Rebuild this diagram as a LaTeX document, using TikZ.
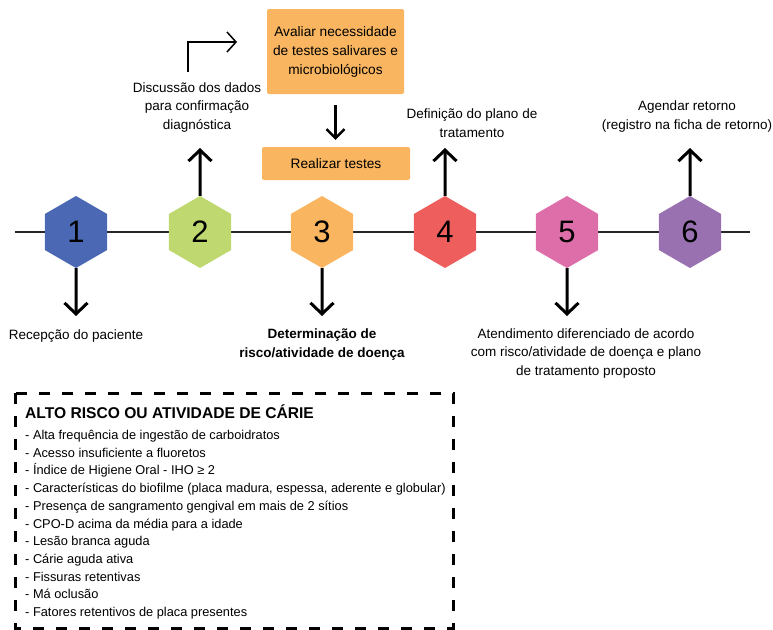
\documentclass[tikz,border=0pt]{standalone}
\usepackage{fontspec}
\setmainfont{Liberation Sans}
\usetikzlibrary{shapes.geometric,arrows.meta}
\definecolor{hexblue}{HTML}{4A68B4}
\definecolor{hexgreen}{HTML}{BFD970}
\definecolor{hexorange}{HTML}{F9B55F}
\definecolor{hexred}{HTML}{EE5E5C}
\definecolor{hexpink}{HTML}{DD6EAA}
\definecolor{hexpurple}{HTML}{9A71B0}
\tikzset{
	hexa/.style={regular polygon,regular polygon sides=6,shape border rotate=30,minimum size=72pt,inner sep=0pt,font=\fontsize{31}{31}\selectfont},
	bigarrow/.style={line width=3pt,-{Straight Barb[length=11pt,width=23pt,line width=3pt]}},
	midarrow/.style={line width=2.5pt,-{Straight Barb[length=9pt,width=18pt,line width=2.5pt]}},
	thinarrow/.style={line width=1.5pt,-{Straight Barb[length=9pt,width=20pt,line width=1.5pt]}},
	obox/.style={fill=hexorange,rounded corners=2pt,inner sep=0pt,font=\fontsize{13.7}{18.8}\selectfont},
	lbl/.style={inner sep=0pt,font=\fontsize{13.5}{18.6}\selectfont}
}
\begin{document}
\begin{tikzpicture}[x=1pt,y=-1pt]
		\useasboundingbox (0,0) rectangle (773,629);
	
		\coordinate (lstart) at (15,232);
		\coordinate (lend) at (750,232);
		\draw[line width=2pt,black!85] (lstart) -- (lend);
		
		\node[hexa,fill=hexblue] (h1) at (76,232){1};
		\node[hexa,fill=hexgreen] (h2) at (200,232){2};
		\node[hexa,fill=hexorange] (h3) at (322,232){3};
		\node[hexa,fill=hexred] (h4) at (445,232){4};
		\node[hexa,fill=hexpink] (h5) at (567,232){5};
		\node[hexa,fill=hexpurple] (h6) at (690,232){6};
		
		\coordinate (d1) at (76,316);
		\coordinate (u2) at (200,148);
		\coordinate (d3) at (322,316);
		\coordinate (u4) at (445,148);
		\coordinate (d5) at (567,316);
		\coordinate (u6) at (690,148);
		
		\draw[bigarrow] (h1.south) -- (d1);
		\draw[bigarrow] (h2.north) -- (u2);
		\draw[bigarrow] (h3.south) -- (d3);
		\draw[bigarrow] (h4.north) -- (u4);
		\draw[bigarrow] (h5.south) -- (d5);
		\draw[bigarrow] (h6.north) -- (u6);
		
		\node[lbl] (lab1) at (76,336){\begin{tabular}{c}Recepção do paciente\end{tabular}};
		\node[lbl] (lab2) at (197,107){\begin{tabular}{c}Discussão dos dados\\para confirmação\\diagnóstica\end{tabular}};
		\node[lbl] (lab3) at (322,344){\begin{tabular}{c}\bfseries Determinação de\\\bfseries risco/atividade de doença\end{tabular}};
		\node[lbl] (lab4) at (472,124){\begin{tabular}{c}Definição do plano de\\tratamento\end{tabular}};
		\node[lbl] (lab5) at (586,353){\begin{tabular}{c}Atendimento diferenciado de acordo\\com risco/atividade de doença e plano\\de tratamento proposto\end{tabular}};
		\node[lbl] (lab6) at (687,116){\begin{tabular}{c}Agendar retorno\\(registro na ficha de retorno)\end{tabular}};
		
		\coordinate (b0) at (188,72);
		\coordinate (b1) at (237,42);
		\draw[thinarrow] (b0) |- (b1);
		
		\node[obox,minimum width=137pt,minimum height=85pt] (eval) at (335.5,51.5){\begin{tabular}{c}Avaliar necessidade\\de testes salivares e\\microbiológicos\end{tabular}};
		\node[obox,minimum width=148pt,minimum height=33pt] (test) at (336,163.5){Realizar testes};
		\draw[midarrow,shorten <=11pt,shorten >=7pt] (eval.south) -- (eval.south |- test.north);
		
		\draw[line width=3pt,dash pattern=on 11pt off 12pt] (15,393) rectangle (453,628);
		\node[anchor=base west,inner sep=0pt,font=\fontsize{15.6}{17}\selectfont\bfseries] (title) at (25,418){ALTO RISCO OU ATIVIDADE DE CÁRIE};
		\node[anchor=base west,inner sep=0pt,font=\fontsize{12.8}{17.7}\selectfont] (items) at (25,439.5){\begin{tabular}[t]{@{}l@{}}
			- Alta frequência de ingestão de carboidratos\\
			- Acesso insuficiente a fluoretos\\
			- Índice de Higiene Oral - IHO ≥ 2\\
			- Características do biofilme (placa madura, espessa, aderente e globular)\\
			- Presença de sangramento gengival em mais de 2 sítios\\
			- CPO-D acima da média para a idade\\
			- Lesão branca aguda\\
			- Cárie aguda ativa\\
			- Fissuras retentivas\\
			- Má oclusão\\
			- Fatores retentivos de placa presentes
		\end{tabular}};
	\end{tikzpicture}
\end{document}
